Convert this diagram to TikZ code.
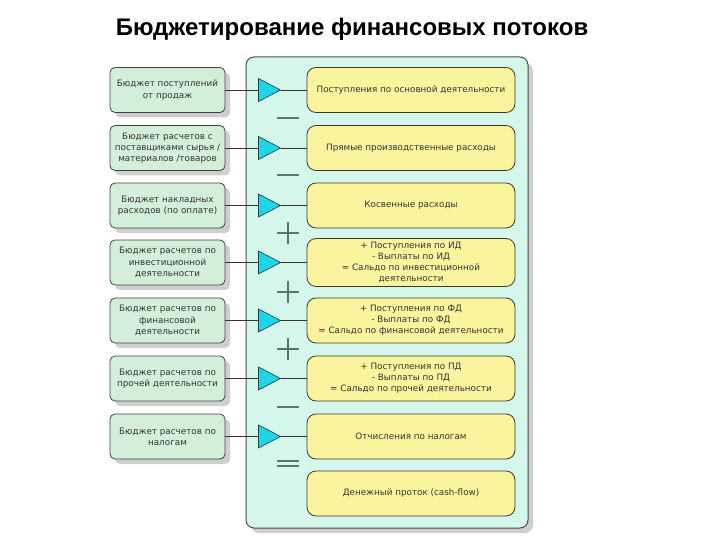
\documentclass[tikz,border=0pt]{standalone}
\usepackage{fontspec}
\setmainfont{DejaVu Sans}
\newfontfamily\titlefont{Liberation Sans}
\usepackage{tikz}
\usetikzlibrary{positioning,shapes.geometric,shadows}
\definecolor{panelfill}{HTML}{D5F6EA}
\definecolor{budfill}{HTML}{D3EFD9}
\definecolor{flowfill}{HTML}{FAF49E}
\definecolor{tricol}{HTML}{1CD6E8}
\definecolor{opcol}{HTML}{5E7466}
\definecolor{shadecol}{HTML}{CFCFCF}

\tikzset{
  budget/.style={draw=black!75, fill=budfill, rounded corners=5pt, line width=0.8pt,
    minimum width=115pt, minimum height=45pt, align=center, inner xsep=0pt,
    font=\fontsize{8.8}{11.2}\selectfont, text=black!80,
    copy shadow={shadow xshift=5pt, shadow yshift=-5pt, fill=shadecol, draw=none}},
  flow/.style={draw=black!75!olive, fill=flowfill, rounded corners=9pt, line width=0.8pt,
    minimum width=208pt, minimum height=45pt, align=center, inner xsep=0pt,
    font=\fontsize{8.8}{11.2}\selectfont, text=black!80},
  valve/.style={isosceles triangle, isosceles triangle stretches, draw=black!80,
    fill=tricol, inner sep=0pt, minimum width=23pt, minimum height=22pt, line width=0.6pt},
  op/.style={draw=opcol, line width=1.2pt}
}

\begin{document}
\begin{tikzpicture}[x=1pt,y=-1pt]
\useasboundingbox (0,0) rectangle (720,540);

\node[font=\titlefont\bfseries\fontsize{24}{28}\selectfont] (title) at (352,29) {Бюджетирование финансовых потоков};

% big panel
\fill[shadecol, rounded corners=8pt] (251,63) rectangle (533,533);
\draw[fill=panelfill, draw=black!70, line width=1pt, rounded corners=8pt] (246,57) rectangle (528,528);

% budgets on the left
\node[budget] (b1) at (167.5,90)  {Бюджет поступлений\\от продаж};
\node[budget] (b2) at (167.5,148) {Бюджет расчетов с\\поставщиками сырья /\\материалов /товаров};
\node[budget] (b3) at (167.5,205.5) {Бюджет накладных\\расходов (по оплате)};
\node[budget] (b4) at (167.5,262.5) {Бюджет расчетов по\\инвестиционной\\деятельности};
\node[budget] (b5) at (167.5,320.5) {Бюджет расчетов по\\финансовой\\деятельности};
\node[budget] (b6) at (167.5,378.5) {Бюджет расчетов по\\прочей деятельности};
\node[budget] (b7) at (167.5,436.5) {Бюджет расчетов по\\налогам};

% flows on the right
\node[flow] (f1) at (411,90)  {Поступления по основной деятельности};
\node[flow] (f2) at (411,148) {Прямые производственные расходы};
\node[flow] (f3) at (411,205.5) {Косвенные расходы};
\node[flow] (f4) at (411,262.5) {+ Поступления по ИД\\- Выплаты по ИД\\= Сальдо по инвестиционной\\деятельности};
\node[flow] (f5) at (411,320.5) {+ Поступления по ФД\\- Выплаты по ФД\\= Сальдо по финансовой деятельности};
\node[flow] (f6) at (411,378.5) {+ Поступления по ПД\\- Выплаты по ПД\\= Сальдо по прочей деятельности};
\node[flow] (f7) at (411,436.5) {Отчисления по налогам};
\node[flow] (f8) at (411,493.5) {Денежный проток (cash-flow)};

% valves
\node[valve] (v1) at (265.5,90) {};
\node[valve] (v2) at (265.5,148) {};
\node[valve] (v3) at (265.5,205.5) {};
\node[valve] (v4) at (265.5,262.5) {};
\node[valve] (v5) at (265.5,320.5) {};
\node[valve] (v6) at (265.5,378.5) {};
\node[valve] (v7) at (265.5,436.5) {};

\draw[black!80, line width=0.8pt] (b1.east) -- (v1.west) (v1.apex) -- (f1.west);
\draw[black!80, line width=0.8pt] (b2.east) -- (v2.west) (v2.apex) -- (f2.west);
\draw[black!80, line width=0.8pt] (b3.east) -- (v3.west) (v3.apex) -- (f3.west);
\draw[black!80, line width=0.8pt] (b4.east) -- (v4.west) (v4.apex) -- (f4.west);
\draw[black!80, line width=0.8pt] (b5.east) -- (v5.west) (v5.apex) -- (f5.west);
\draw[black!80, line width=0.8pt] (b6.east) -- (v6.west) (v6.apex) -- (f6.west);
\draw[black!80, line width=0.8pt] (b7.east) -- (v7.west) (v7.apex) -- (f7.west);

% operators
\draw[op] (277,118) -- (299,118);
\draw[op] (277,175) -- (299,175);
\draw[op] (277,233) -- (299,233) (288,222) -- (288,244);
\draw[op] (277,292) -- (299,292) (288,281) -- (288,303);
\draw[op] (277,349) -- (299,349) (288,338) -- (288,360);
\draw[op] (277,407) -- (299,407);
\draw[op] (277,461) -- (299,461) (277,466) -- (299,466);
\end{tikzpicture}
\end{document}
